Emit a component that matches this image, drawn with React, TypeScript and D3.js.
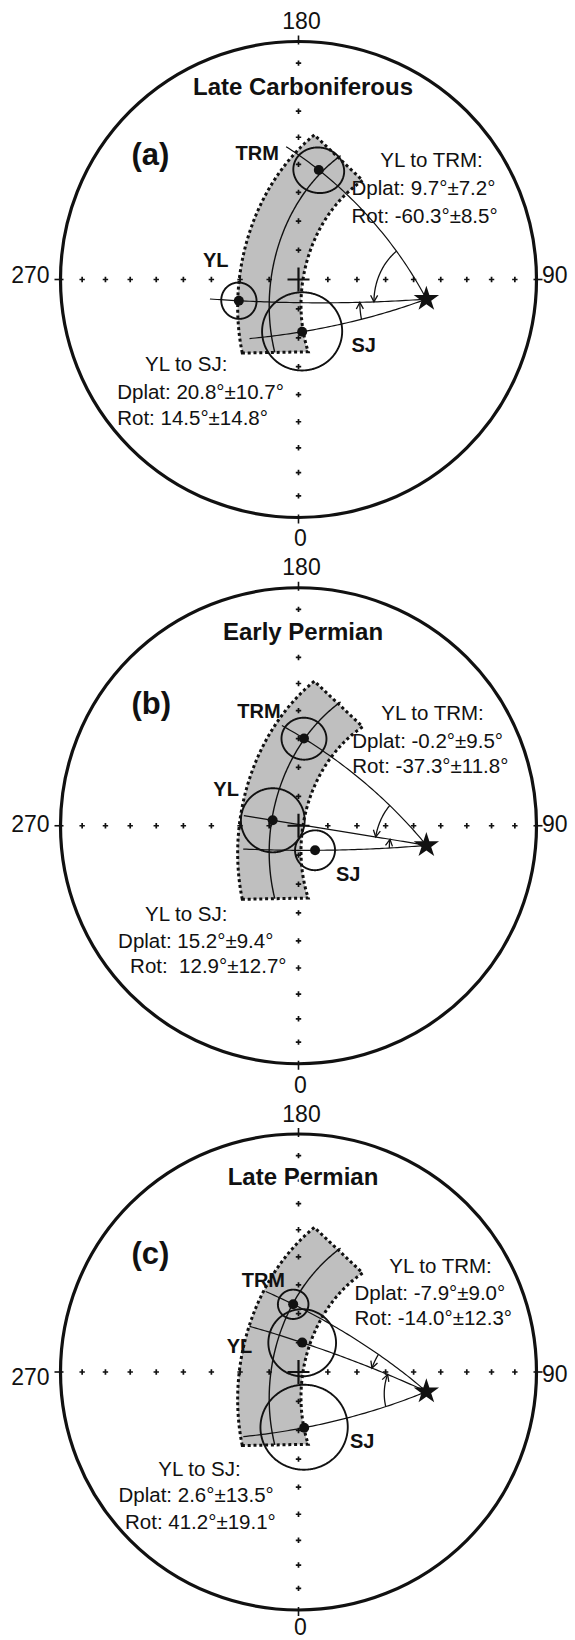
import React from 'react';
import * as d3 from 'd3';

// ---------- data ----------
const PANEL_LETTERS = ['(a)', '(b)', '(c)'];
const PERIODS = ['Late Carboniferous', 'Early Permian', 'Late Permian'];
const AXIS_LONS = [0, 90, 180, 270];
const AXIS_LABELS = ['0', '90', '180', '270'];
const TICK_LATS = [80, 70, 60, 50, 40, 30, 20, 10];

// reference site (star): [lon, lat]
const SITE: [number, number] = [81.3, 44.8];

// paleopoles per panel (a, b, c)
const YL_LON = [289.6, 258.0, 172.8];
const YL_LAT = [68.3, 81.0, 79.9];
const YL_A95 = [6.1, 10.9, 11.5];
const TRM_LON = [169.5, 176.4, 184.5];
const TRM_LAT = [51.35, 59.9, 66.7];
const TRM_A95 = [8.2, 7.4, 5.1];
const SJ_LON = [4.0, 34.0, 5.8];
const SJ_LAT = [72.1, 79.9, 70.85];
const SJ_A95 = [13.5, 6.8, 14.7];

// angular reach of the site-to-pole great circles (deg from site)
const YL_REACH = [75, 64.2, 65.1];
const TRM_REACH = [69, 63.3, 64.6];
const SJ_REACH = [62, 63.4, 64.4];

// angular radius of rotation arrows (deg from site)
const ROT_TRM_RADIUS = [18.7, 18.4, 21.0];
const ROT_SJ_RADIUS = [23.6, 13.3, 15.1];

// reference band: small circle about the site
const BAND_CENTER = 54.5;
const BAND_HALF = 10.8;
const BAND_OUTER_AZ = [-30.7, 59.0];
const BAND_INNER_AZ = [-36.0, 60.0];
const BAND_MID_AZ = [-32.5, 60.0];

// statistics text
const TRM_DPLAT = ['9.7°±7.2°', '-0.2°±9.5°', '-7.9°±9.0°'];
const TRM_ROT = ['-60.3°±8.5°', '-37.3°±11.8°', '-14.0°±12.3°'];
const SJ_DPLAT = ['20.8°±10.7°', '15.2°±9.4°', '2.6°±13.5°'];
const SJ_ROT = ['14.5°±14.8°', ' 12.9°±12.7°', '41.2°±19.1°'];

// ---------- layout (px offsets from panel centre) ----------
const LAYOUT = [
  {
    title: [4.5, -185], letter: [-167, -114.5],
    lab: { TRM: [-63, -119.5], YL: [-95.5, -12.8], SJ: [52.9, 72.8] },
    tHead: [133, -113], tLeft: 53, tBase: [-85, -57],
    sHead: [-112.3, 91.8], sDplat: [-181.3, 119.6], sRot: [-181.3, 145.3],
    l270: 3, l90: 3.5, l0: 266,
  },
  {
    title: [4.5, -185.8], letter: [-167, -111.5],
    lab: { TRM: [-61.2, -108.2], YL: [-85.2, -29.8], SJ: [37.5, 55.2] },
    tHead: [134, -106], tLeft: 53.8, tBase: [-78, -53],
    sHead: [-112.3, 95.6], sDplat: [-180.4, 122.4], sRot: [-168.4, 147.4],
    l270: 6, l90: 6.3, l0: 266.8,
  },
  {
    title: [4.5, -186.9], letter: [-167, -107.7],
    lab: { TRM: [-56.8, -85.3], YL: [-71.8, -18.7], SJ: [51.5, 76.3] },
    tHead: [142, -99.3], tLeft: 56, tBase: [-72, -47],
    sHead: [-99, 103.7], sDplat: [-180, 130], sRot: [-173.5, 157],
    l270: 13, l90: 9.5, l0: 263,
  },
];

const FONT = "'Liberation Sans', Arial, Helvetica, sans-serif";
const rad = Math.PI / 180;

function destination(p: [number, number], brg: number, dist: number): [number, number] {
  const f1 = p[1] * rad, l1 = p[0] * rad, t = brg * rad, d = dist * rad;
  const f2 = Math.asin(Math.sin(f1) * Math.cos(d) + Math.cos(f1) * Math.sin(d) * Math.cos(t));
  const l2 = l1 + Math.atan2(Math.sin(t) * Math.sin(d) * Math.cos(f1), Math.cos(d) - Math.sin(f1) * Math.sin(f2));
  return [l2 / rad, f2 / rad];
}
function bearing(a: [number, number], b: [number, number]) {
  const f1 = a[1] * rad, f2 = b[1] * rad, dl = (b[0] - a[0]) * rad;
  return Math.atan2(Math.sin(dl) * Math.cos(f2), Math.cos(f1) * Math.sin(f2) - Math.sin(f1) * Math.cos(f2) * Math.cos(dl)) / rad;
}

function Panel({ i, cx, cy, R }: { i: number; cx: number; cy: number; R: number }) {
  const proj = d3.geoAzimuthalEqualArea().rotate([0, -90]).scale(R / Math.SQRT2).translate([cx, cy]).precision(0.1);
  const path = d3.geoPath(proj);
  const P = (p: [number, number]) => proj(p) as [number, number];
  const lineGen = d3.line<[number, number]>();
  const L = LAYOUT[i];

  const poles = [
    { name: 'TRM', c: [TRM_LON[i], TRM_LAT[i]] as [number, number], a95: TRM_A95[i], reach: TRM_REACH[i] },
    { name: 'YL', c: [YL_LON[i], YL_LAT[i]] as [number, number], a95: YL_A95[i], reach: YL_REACH[i] },
    { name: 'SJ', c: [SJ_LON[i], SJ_LAT[i]] as [number, number], a95: SJ_A95[i], reach: SJ_REACH[i] },
  ];

  const arc = (az0: number, az1: number, dist: number, n = 120) =>
    d3.range(n + 1).map((k) => P(destination(SITE, az0 + ((az1 - az0) * k) / n, dist)));

  const outer = arc(BAND_OUTER_AZ[0], BAND_OUTER_AZ[1], BAND_CENTER + BAND_HALF);
  const inner = arc(BAND_INNER_AZ[1], BAND_INNER_AZ[0], BAND_CENTER - BAND_HALF);
  const bandD = lineGen([...outer, ...inner]) + 'Z';
  const midD = lineGen(arc(BAND_MID_AZ[0], BAND_MID_AZ[1], BAND_CENTER));

  const gcLines = poles.map((p) => {
    const b = bearing(SITE, p.c);
    const pts = d3.range(61).map((k) => P(destination(SITE, b, (p.reach * k) / 60)));
    return lineGen(pts);
  });

  const ylB = bearing(SITE, poles[1].c);
  const makeArrow = (fromB: number, toB: number, r: number) => {
    const diff = ((toB - fromB + 540) % 360) - 180;
    const n = 60;
    const pts = d3.range(n + 1).map((k) => P(destination(SITE, fromB + (diff * k) / n, r)));
    const tip = pts[n];
    const prev = pts[n - 4];
    let ux = tip[0] - prev[0], uy = tip[1] - prev[1];
    const len = Math.hypot(ux, uy) || 1;
    ux /= len; uy /= len;
    const hl = 7.5, ha = 28 * rad;
    const h = (s: number) => {
      const c = Math.cos(s * ha), sn = Math.sin(s * ha);
      const rx = ux * c - uy * sn, ry = ux * sn + uy * c;
      return [tip[0] - hl * rx, tip[1] - hl * ry];
    };
    const h1 = h(1), h2 = h(-1);
    return { d: lineGen(pts), head: `M${h1[0]},${h1[1]}L${tip[0]},${tip[1]}L${h2[0]},${h2[1]}` };
  };
  const arrows = [
    makeArrow(bearing(SITE, poles[0].c), ylB, ROT_TRM_RADIUS[i]),
    makeArrow(bearing(SITE, poles[2].c), ylB, ROT_SJ_RADIUS[i]),
  ];

  const centre = P([0, 90]);
  const star = P(SITE);
  const starPath = d3.symbol(d3.symbolStar, 200)();

  const ticks: [number, number][] = [];
  AXIS_LONS.forEach((lon) => TICK_LATS.forEach((lat) => ticks.push(P([lon, lat]))));

  const bTicks = AXIS_LONS.map((lon) => {
    const e = P([lon, 0]);
    const ux = (e[0] - centre[0]) / R, uy = (e[1] - centre[1]) / R;
    return `M${centre[0] + ux * (R - 3)},${centre[1] + uy * (R - 3)}L${centre[0] + ux * (R + 6)},${centre[1] + uy * (R + 6)}`;
  });

  const ann = 20.5;
  return (
    <g>
      {/* band */}
      <path d={bandD} fill="#bfbfbf" stroke="none" />
      <path d={bandD} fill="none" stroke="#111" strokeWidth={3} strokeDasharray="3 2.8" />
      <path d={midD ?? ''} fill="none" stroke="#111" strokeWidth={1.4} />

      {/* primitive circle */}
      <circle cx={centre[0]} cy={centre[1]} r={R} fill="none" stroke="#111" strokeWidth={3.2} />
      {bTicks.map((d, k) => <path key={k} d={d} stroke="#111" strokeWidth={1.6} />)}

      {/* axis ticks */}
      {ticks.map((t, k) => (
        <path key={k} d={`M${t[0] - 2.7},${t[1]}h5.4M${t[0]},${t[1] - 2.7}v5.4`} stroke="#111" strokeWidth={1.7} />
      ))}
      <path d={`M${centre[0] - 11},${centre[1]}h22M${centre[0]},${centre[1] - 12}v24`} stroke="#111" strokeWidth={2.2} />

      {/* great circles site -> poles */}
      {gcLines.map((d, k) => <path key={k} d={d ?? ''} fill="none" stroke="#111" strokeWidth={1.2} />)}

      {/* rotation arrows */}
      {arrows.map((a, k) => (
        <g key={k}>
          <path d={a.d ?? ''} fill="none" stroke="#111" strokeWidth={1.3} />
          <path d={a.head} fill="none" stroke="#111" strokeWidth={1.3} />
        </g>
      ))}

      {/* confidence circles and poles */}
      {poles.map((p) => (
        <g key={p.name}>
          <path d={path(d3.geoCircle().center(p.c).radius(p.a95).precision(1)()) ?? ''} fill="none" stroke="#111" strokeWidth={1.9} />
          <circle cx={P(p.c)[0]} cy={P(p.c)[1]} r={5} fill="#111" />
        </g>
      ))}

      <path d={starPath ?? ''} transform={`translate(${star[0]},${star[1]})`} fill="#111" />

      {/* labels */}
      <text x={cx + L.title[0]} y={cy + L.title[1]} textAnchor="middle" fontFamily={FONT} fontWeight="bold" fontSize={24}
        stroke="#fff" strokeWidth={4} style={{ paintOrder: 'stroke' }} fill="#111">{PERIODS[i]}</text>
      <text x={cx + L.letter[0]} y={cy + L.letter[1]} fontFamily={FONT} fontWeight="bold" fontSize={31} fill="#111">{PANEL_LETTERS[i]}</text>
      {(['TRM', 'YL', 'SJ'] as const).map((n) => (
        <text key={n} x={cx + L.lab[n][0]} y={cy + L.lab[n][1]} fontFamily={FONT} fontWeight="bold" fontSize={20} fill="#111">{n}</text>
      ))}

      <text x={cx + L.tHead[0]} y={cy + L.tHead[1]} textAnchor="middle" fontFamily={FONT} fontSize={ann} fill="#111">YL to TRM:</text>
      <text x={cx + L.tLeft} y={cy + L.tBase[0]} fontFamily={FONT} fontSize={ann} fill="#111" style={{ whiteSpace: 'pre' }}>{`Dplat: ${TRM_DPLAT[i]}`}</text>
      <text x={cx + L.tLeft} y={cy + L.tBase[1]} fontFamily={FONT} fontSize={ann} fill="#111" style={{ whiteSpace: 'pre' }}>{`Rot: ${TRM_ROT[i]}`}</text>

      <text x={cx + L.sHead[0]} y={cy + L.sHead[1]} textAnchor="middle" fontFamily={FONT} fontSize={ann} fill="#111">YL to SJ:</text>
      <text x={cx + L.sDplat[0]} y={cy + L.sDplat[1]} fontFamily={FONT} fontSize={ann} fill="#111" style={{ whiteSpace: 'pre' }}>{`Dplat: ${SJ_DPLAT[i]}`}</text>
      <text x={cx + L.sRot[0]} y={cy + L.sRot[1]} fontFamily={FONT} fontSize={ann} fill="#111" style={{ whiteSpace: 'pre' }}>{`Rot: ${SJ_ROT[i]}`}</text>

      {/* axis labels */}
      <text x={cx + 2} y={cy + L.l0} textAnchor="middle" fontFamily={FONT} fontSize={23} fill="#111">{AXIS_LABELS[0]}</text>
      <text x={cx + 243.5} y={cy + L.l90} fontFamily={FONT} fontSize={23} fill="#111">{AXIS_LABELS[1]}</text>
      <text x={cx + 3} y={cy - 250.5} textAnchor="middle" fontFamily={FONT} fontSize={23} fill="#111">{AXIS_LABELS[2]}</text>
      <text x={cx - 249} y={cy + L.l270} textAnchor="end" fontFamily={FONT} fontSize={23} fill="#111">{AXIS_LABELS[3]}</text>
    </g>
  );
}

export default function App() {
  const W = 575, H = 1640, R = 238, CX = 298.5, CY0 = 279.5, DY = 546.25;
  return (
    <svg width={W} height={H} viewBox={`0 0 ${W} ${H}`} style={{ position: 'absolute', left: 0, top: 0, background: '#fff' }}>
      <rect width={W} height={H} fill="#fff" />
      {PERIODS.map((_, i) => (
        <Panel key={i} i={i} cx={CX} cy={CY0 + i * DY} R={R} />
      ))}
    </svg>
  );
}
